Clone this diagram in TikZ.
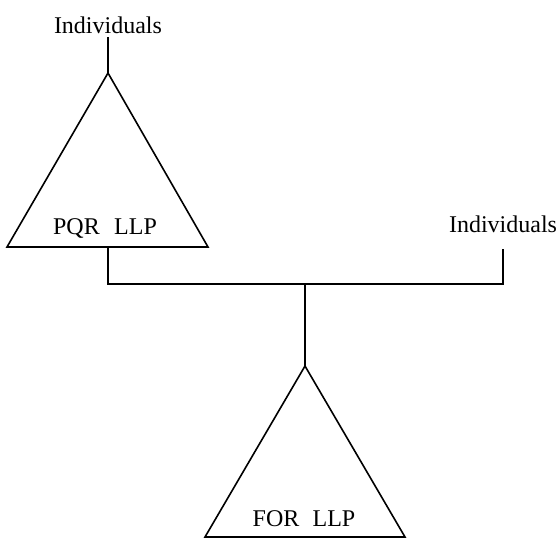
\documentclass[tikz,border=0pt]{standalone}
\usepackage{fontspec}
\setmainfont{Liberation Serif}
\begin{document}
\begin{tikzpicture}[x=1pt,y=-1pt,
  lbl/.style={inner sep=0pt,anchor=base,font=\fontsize{24}{28}\selectfont},
  ln/.style={line width=1.6pt,line join=miter}]
\useasboundingbox (0,0) rectangle (560,539);
% text
\node[lbl] (ind1) at (108,33) {Individuals};
\node[lbl] (pqr) at (105,234) {PQR\hspace{0.6em}LLP};
\node[lbl] (ind2) at (503,232) {Individuals};
\node[lbl] (for) at (304,526) {FOR\hspace{0.55em}LLP};
% coordinates
\coordinate (a1) at (108,73);
\coordinate (l1) at (7,247);
\coordinate (r1) at (208,247);
\coordinate (b1) at (108,247);
\coordinate (t1) at (108,37);
\coordinate (j1) at (108,284);
\coordinate (j2) at (503,284);
\coordinate (t2) at (503,249);
\coordinate (jm) at (305,284);
\coordinate (a2) at (305,366);
\coordinate (l2) at (205,537);
\coordinate (r2) at (405,537);
% triangles
\draw[ln] (a1) -- (l1) -- (r1) -- cycle;
\draw[ln] (a2) -- (l2) -- (r2) -- cycle;
% connectors
\draw[ln] (t1) -- (a1);
\draw[ln] (b1) -- (j1) -- (j2) -- (t2);
\draw[ln] (jm) -- (a2);
\end{tikzpicture}
\end{document}
